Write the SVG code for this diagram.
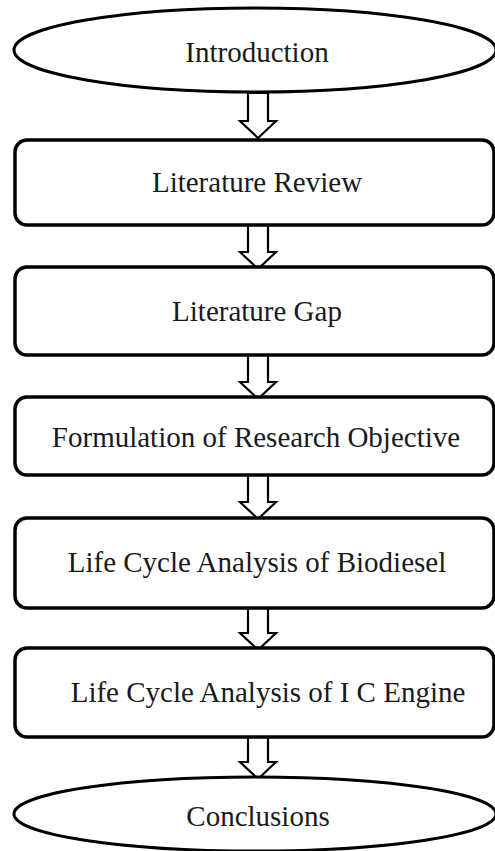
<svg xmlns="http://www.w3.org/2000/svg" width="495" height="851" viewBox="0 0 495 851">
<style>
.shape{fill:#fff;stroke:#000;stroke-width:3.5}
.ell{fill:#fff;stroke:#000;stroke-width:3}
.lbl{font-family:'Liberation Serif','Times New Roman','DejaVu Serif',serif;font-size:29px;fill:#1a1a1a;text-anchor:middle}
.arr{fill:#fff;stroke:#000;stroke-width:2.2;stroke-linejoin:miter}
</style>
<defs>
<polygon id="blk" points="-10,0 10,0 10,28 18,28 0,45 -18,28 -10,28"/>
</defs>
<rect width="495" height="851" fill="#fff"/>
<g id="connectors">
<use href="#blk" class="arr" x="258" y="93"/>
<use href="#blk" class="arr" x="258" y="224"/>
<use href="#blk" class="arr" x="258" y="354"/>
<use href="#blk" class="arr" x="258" y="474"/>
<use href="#blk" class="arr" x="258" y="605"/>
<use href="#blk" class="arr" x="258" y="734"/>
</g>
<g id="introduction">
<ellipse class="ell" cx="255" cy="50" rx="241" ry="42"/>
<text class="lbl" x="257" y="62" font-family="Liberation Serif, serif">Introduction</text>
</g>
<g id="literature-review">
<rect class="shape" x="15" y="140" width="479" height="85" rx="12"/>
<text class="lbl" x="257" y="192" font-family="Liberation Serif, serif">Literature Review</text>
</g>
<g id="literature-gap">
<rect class="shape" x="15" y="267" width="479" height="88" rx="12"/>
<text class="lbl" x="257" y="321" font-family="Liberation Serif, serif">Literature Gap</text>
</g>
<g id="formulation">
<rect class="shape" x="15" y="397" width="479" height="78" rx="12"/>
<text class="lbl" x="256" y="447" font-family="Liberation Serif, serif">Formulation of Research Objective</text>
</g>
<g id="lca-biodiesel">
<rect class="shape" x="15" y="518" width="479" height="90" rx="12"/>
<text class="lbl" x="257" y="572" font-family="Liberation Serif, serif">Life Cycle Analysis of Biodiesel</text>
</g>
<g id="lca-ic-engine">
<rect class="shape" x="15" y="648" width="479" height="89" rx="12"/>
<text class="lbl" x="268" y="702" font-family="Liberation Serif, serif">Life Cycle Analysis of I C Engine</text>
</g>
<g id="conclusions">
<ellipse class="ell" cx="255" cy="814" rx="241" ry="37"/>
<text class="lbl" x="258" y="826" font-family="Liberation Serif, serif">Conclusions</text>
</g>
</svg>
